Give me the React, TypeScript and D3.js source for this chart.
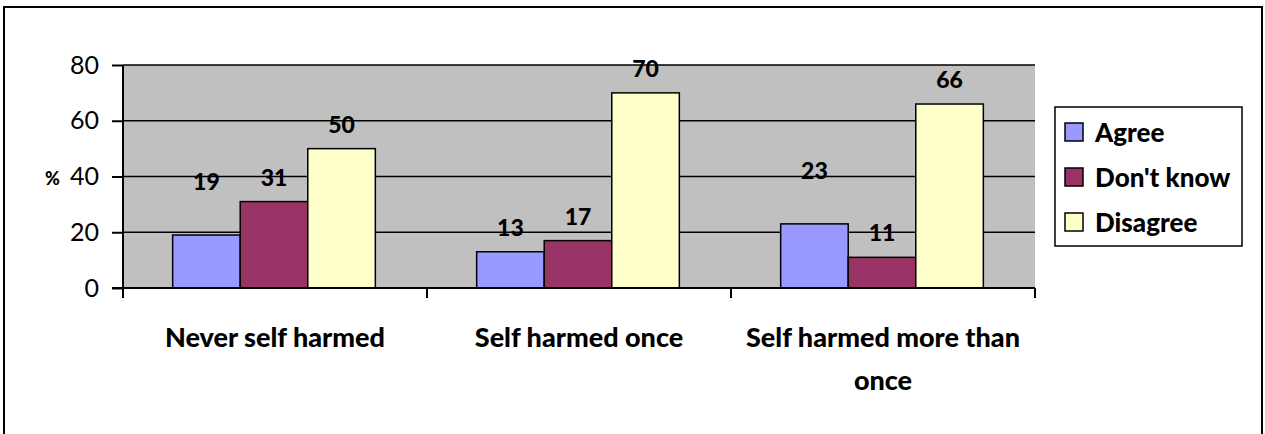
import React, { useEffect, useRef } from "react"
import * as d3 from "d3"

const categories = ["Never self harmed", "Self harmed once", "Self harmed more than once"]
const seriesNames = ["Agree", "Don't know", "Disagree"]
const agree = [19, 13, 23]
const dontKnow = [31, 17, 11]
const disagree = [50, 70, 66]
const yTicks = [0, 20, 40, 60, 80]
const colors = ["#9999FF", "#993366", "#FFFFCC"]

const FONT = "Lato, Carlito, sans-serif"

export default function App() {
    const ref = useRef<SVGSVGElement>(null)

    useEffect(() => {
        const svg = d3.select(ref.current)
        svg.selectAll("*").remove()

        const width = 1265
        const height = 434
        const plot = { left: 123, right: 1035, top: 65, bottom: 288 }
        const values = [agree, dontKnow, disagree]

        // outer frame (bottom runs off the picture)
        svg.append("rect")
            .attr("x", 4).attr("y", 7)
            .attr("width", 1258).attr("height", 460)
            .attr("fill", "#fff").attr("stroke", "#000").attr("stroke-width", 2)

        const x0 = d3.scaleBand().domain(categories).range([plot.left, plot.right])
        // gap width 150% -> each bar is group / 4.5
        const x1 = d3.scaleBand().domain(seriesNames)
            .range([0, x0.bandwidth()]).paddingOuter(0.75).paddingInner(0)
        const y = d3.scaleLinear().domain([0, 80]).range([plot.bottom, plot.top])

        svg.append("rect")
            .attr("x", plot.left).attr("y", plot.top)
            .attr("width", plot.right - plot.left).attr("height", plot.bottom - plot.top)
            .attr("fill", "#C0C0C0")

        // gridlines
        svg.append("g").selectAll("line")
            .data(yTicks.filter(d => d > 0))
            .enter().append("line")
            .attr("x1", plot.left).attr("x2", plot.right)
            .attr("y1", d => y(d)).attr("y2", d => y(d))
            .attr("stroke", "#000").attr("stroke-width", 1.5)

        // bars
        categories.forEach((cat, ci) => {
            const g = svg.append("g").attr("transform", `translate(${x0(cat)},0)`)
            seriesNames.forEach((s, si) => {
                const v = values[si][ci]
                g.append("rect")
                    .attr("x", (x1(s) as number) - 1).attr("y", y(v))
                    .attr("width", x1.bandwidth()).attr("height", y(0) - y(v))
                    .attr("fill", colors[si]).attr("stroke", "#000").attr("stroke-width", 1.5)
            })
        })

        // value labels; two Agree labels sit higher in the original
        const lift = (ci: number, si: number) => (si === 0 && ci !== 1 ? 29 : 0)
        categories.forEach((cat, ci) => {
            seriesNames.forEach((s, si) => {
                const v = values[si][ci]
                svg.append("text")
                    .attr("x", (x0(cat) as number) + (x1(s) as number) + x1.bandwidth() / 2 - 1)
                    .attr("y", y(v) - 16 - lift(ci, si))
                    .attr("text-anchor", "middle")
                    .attr("font-family", FONT).attr("font-weight", "900").attr("font-size", 23)
                    .text(v)
            })
        })

        // y axis
        const yAxis = d3.axisLeft(y).tickValues(yTicks).tickSize(11).tickPadding(13)
        const ya = svg.append("g").attr("transform", `translate(${plot.left},0)`).call(yAxis)
        ya.select(".domain").attr("stroke-width", 2).attr("d", `M-0,${plot.top}V${plot.bottom + 10}`)
        ya.selectAll(".tick line").attr("stroke-width", 2)
        ya.selectAll(".tick text")
            .attr("font-family", FONT).attr("font-size", 25).attr("fill", "#000")

        svg.append("text")
            .attr("x", 45).attr("y", 185)
            .attr("font-family", FONT).attr("font-weight", "900").attr("font-size", 18)
            .text("%")

        // x axis
        const xa = svg.append("g")
        xa.append("line")
            .attr("x1", plot.left - 11).attr("x2", plot.right)
            .attr("y1", plot.bottom).attr("y2", plot.bottom)
            .attr("stroke", "#000").attr("stroke-width", 2)
        const edges = categories.map(c => x0(c) as number).concat([plot.right])
        xa.selectAll("line.tk").data(edges).enter().append("line")
            .attr("class", "tk")
            .attr("x1", d => d).attr("x2", d => d)
            .attr("y1", plot.bottom).attr("y2", plot.bottom + 10)
            .attr("stroke", "#000").attr("stroke-width", 2)

        const wrap: Record<string, string[]> = {
            "Self harmed more than once": ["Self harmed more than", "once"],
        }
        categories.forEach(cat => {
            const lines = wrap[cat] || [cat]
            const t = svg.append("text")
                .attr("x", (x0(cat) as number) + x0.bandwidth() / 2)
                .attr("y", 347)
                .attr("text-anchor", "middle")
                .attr("font-family", FONT).attr("font-weight", "900").attr("font-size", 27)
            lines.forEach((l, i) => {
                t.append("tspan")
                    .attr("x", (x0(cat) as number) + x0.bandwidth() / 2)
                    .attr("dy", i === 0 ? 0 : 43)
                    .text(l)
            })
        })

        // legend
        const lg = svg.append("g").attr("transform", "translate(1055,107)")
        lg.append("rect")
            .attr("width", 187).attr("height", 139)
            .attr("fill", "#fff").attr("stroke", "#000").attr("stroke-width", 1.5)
        seriesNames.forEach((s, i) => {
            const row = lg.append("g").attr("transform", `translate(0,${16 + i * 45})`)
            row.append("rect")
                .attr("x", 10).attr("y", 0).attr("width", 18).attr("height", 18)
                .attr("fill", colors[i]).attr("stroke", "#000").attr("stroke-width", 1.5)
            row.append("text")
                .attr("x", 40).attr("y", 19)
                .attr("font-family", FONT).attr("font-weight", "900").attr("font-size", 26)
                .text(s)
        })

        svg.attr("width", width).attr("height", height)
    }, [])

    return <svg ref={ref} width={1265} height={434} style={{ position: "absolute", left: 0, top: 0, background: "#fff" }} />
}
